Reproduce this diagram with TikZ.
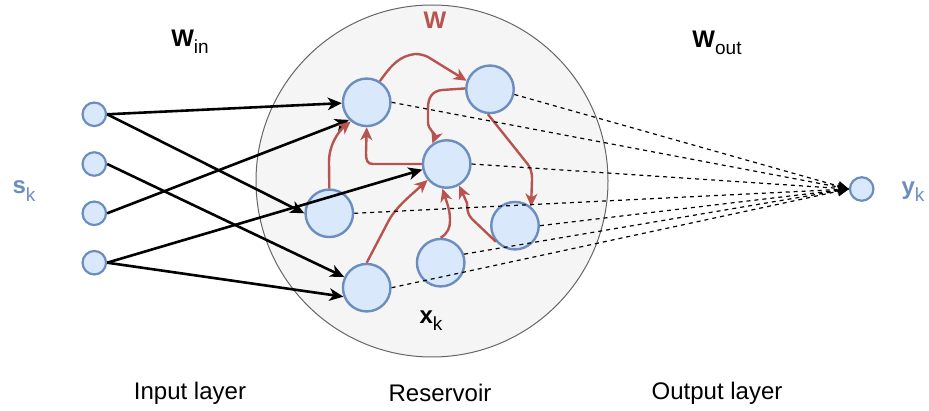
\documentclass[tikz,border=0pt]{standalone}
\usepackage{fontspec}
\setmainfont{Liberation Sans}
\usetikzlibrary{arrows.meta}
\definecolor{nfill}{HTML}{DAE8FC}
\definecolor{nstroke}{HTML}{6C8EBF}
\definecolor{wred}{HTML}{B85450}
\definecolor{rfill}{HTML}{F5F5F5}
\definecolor{rstroke}{HTML}{666666}
\newcommand\subx[1]{\raisebox{-0.3em}{\fontsize{19}{19}\selectfont #1}}
\begin{document}
\begin{tikzpicture}[x=1pt,y=-1pt,
 neuron/.style={circle, draw=nstroke, fill=nfill, line width=2.4pt, minimum size=47.5pt, inner sep=0pt},
 inneuron/.style={circle, draw=nstroke, fill=nfill, line width=2.2pt, minimum size=23.5pt, inner sep=0pt},
 inarrow/.style={line width=2.6pt, -{Stealth[length=14pt,width=12.5pt,inset=4pt]}},
 wedge/.style={draw=wred, line width=2.4pt, -{Stealth[length=13pt,width=12pt,inset=4pt]}},
 outedge/.style={dash pattern=on 4pt off 4pt, line width=1.2pt, -{Stealth[length=11pt,width=10pt,inset=2pt]}},
 lbl/.style={font=\fontsize{24}{27}\selectfont, inner sep=0pt}]
\useasboundingbox (0,0) rectangle (929,411);
% reservoir
\node[circle, draw=rstroke, fill=rfill, line width=1pt, minimum size=352pt, inner sep=0pt] (res) at (432,181) {};
% reservoir neurons
\node[neuron] (a) at (366.7,102.3) {};
\node[neuron] (b) at (490,89.3) {};
\node[neuron] (c) at (446.7,164) {};
\node[neuron] (d) at (329.3,213.3) {};
\node[neuron] (e) at (515,225.7) {};
\node[neuron] (f) at (440.7,262.7) {};
\node[neuron] (g) at (366.7,287.7) {};
% input neurons
\node[inneuron] (i1) at (94.3,114.3) {};
\node[inneuron] (i2) at (94.3,164) {};
\node[inneuron] (i3) at (94.3,213.3) {};
\node[inneuron] (i4) at (94.3,262.7) {};
% output neuron
\node[inneuron] (o) at (861.7,189) {};
% input weights
\draw[inarrow] (i1.east) -- (a.182);
\draw[inarrow] (i1.east) -- (d.180);
\draw[inarrow] (i2.east) -- (g);
\draw[inarrow] (i3.east) -- (a.225);
\draw[inarrow] (i4.east) -- (c.193);
\draw[inarrow] (i4.east) -- (g.201);
% reservoir weights
\draw[wedge] (a.58) .. controls (392,64) and (400,56) .. (415,54) .. controls (420,54) and (424,55) .. (428,57) -- (b.160);
\draw[wedge] (b.178) -- (442,90) .. controls (432,91) and (428,98) .. (428,108) -- (428,122) .. controls (428,130) and (436,134) .. (c.125);
\draw[wedge] (b.-95) -- (526,162) .. controls (531,168) and (532,172) .. (532,180) -- (e.50);
\draw[wedge] (c.180) -- (373,164) .. controls (367,164) and (366,160) .. (366,153) -- (a.south);
\draw[wedge] (d.north) -- (329,162) .. controls (329,145) and (338,132) .. (a.230);
\draw[wedge] (g.north) -- (388,222) .. controls (395,208) and (410,196) .. (c.220);
\draw[wedge] (f.north) .. controls (448,233) and (450,228) .. (450,220) .. controls (450,210) and (447,203) .. (c.-100);
\draw[wedge] (e.220) -- (472,219) .. controls (468,215) and (467,210) .. (467,203) -- (c.-60);
% output weights
\draw[outedge] (a.east) -- (o.west);
\draw[outedge] (b.-12) -- (o.west);
\draw[outedge] (c.east) -- (o.west);
\draw[outedge] (d.east) -- (o.west);
\draw[outedge] (e.east) -- (o.west);
\draw[outedge] (f.20) -- (o.west);
\draw[outedge] (g.east) -- (o.west);
% labels
\node[lbl] (win) at (190,42) {\textbf{W}\subx{in}};
\node[lbl] (wout) at (717,43) {\textbf{W}\subx{out}};
\node[lbl, text=wred] (wres) at (435,20) {\textbf{W}};
\node[lbl] (xk) at (431,321) {\textbf{x}\subx{k}};
\node[lbl, text=nstroke] (sk) at (24,191) {\textbf{s}\subx{k}};
\node[lbl, text=nstroke] (yk) at (913,192) {\textbf{y}\subx{k}};
\node[lbl] (l1) at (190,393) {Input layer};
\node[lbl] (l2) at (440,393) {Reservoir};
\node[lbl] (l3) at (717,393) {Output layer};
\end{tikzpicture}
\end{document}
